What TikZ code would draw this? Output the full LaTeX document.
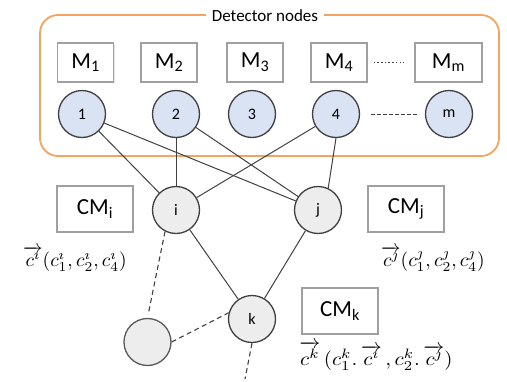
\documentclass[tikz,border=0pt]{standalone}
\usepackage{fontspec}
\setmainfont{Carlito}
\usepackage{amsmath}
\usetikzlibrary{shadows}
\definecolor{detfill}{HTML}{DAE3F3}
\definecolor{cfill}{HTML}{EDEDED}
\definecolor{edgec}{HTML}{404040}
\definecolor{orng}{HTML}{F4A460}
\definecolor{boxc}{HTML}{A0A0A0}
\begin{document}
\begin{tikzpicture}[x=1pt,y=-1pt,
  mbox/.style={draw=boxc, line width=1.2pt, fill=white, inner sep=0pt,
    minimum width=56pt, minimum height=39pt, font=\fontsize{23}{25}\selectfont,
    drop shadow={shadow xshift=1.2pt, shadow yshift=-1.2pt, fill=gray!35, opacity=0.6}},
  cmbox/.style={mbox, minimum width=76pt, minimum height=46pt},
  det/.style={circle, draw=edgec, line width=1.3pt, fill=detfill, inner sep=0pt,
    minimum size=47pt, font=\fontsize{16}{18}\selectfont},
  cn/.style={det, fill=cfill},
  edge/.style={draw=edgec, line width=1pt},
  dedge/.style={draw=edgec, line width=1.1pt, dash pattern=on 5pt off 3.5pt},
  mathlab/.style={inner sep=0pt, font=\fontsize{10}{12}\selectfont}
]
\useasboundingbox (0,0) rectangle (507,381);
% group frame
\draw[orng, line width=1.8pt, rounded corners=18pt] (40,15) rectangle (499,156);
\node[fill=white, inner xsep=6pt, inner ysep=1pt, font=\fontsize{17}{19}\selectfont] (title) at (265,16) {Detector nodes};
% M boxes
\node[mbox] (M1) at (85.5,62.5) {M\textsubscript{1}};
\node[mbox] (M2) at (169,62.5) {M\textsubscript{2}};
\node[mbox] (M3) at (255,62.5) {M\textsubscript{3}};
\node[mbox] (M4) at (339,62.5) {M\textsubscript{4}};
\node[mbox, minimum width=67pt] (Mm) at (448.5,62.5) {M\textsubscript{m}};
\draw[edgec, line width=1.4pt, dash pattern=on 1.5pt off 2.2pt, shorten <=6pt, shorten >=10pt] (M4.east) -- (Mm.west);
% detector nodes
\node[det] (n1) at (82,114) {1};
\node[det] (n2) at (176,114) {2};
\node[det] (n3) at (252,114) {3};
\node[det] (n4) at (336,114) {4};
\node[det] (nm) at (449,114) {m};
\draw[dedge, dash pattern=on 3.5pt off 2.5pt, line width=1pt, shorten <=11pt, shorten >=6pt] (n4.east) -- (nm.west);
% cluster nodes
\node[cn] (i) at (176,210) {i};
\node[cn] (j) at (318,210) {j};
\node[cn] (k) at (252,319) {k};
\node[cn, draw=gray!70!black] (b) at (147.5,342) {};
% CM boxes
\node[cmbox] (CMi) at (95,209) {CM\textsubscript{i}};
\node[cmbox] (CMj) at (406,209) {CM\textsubscript{j}};
\node[cmbox] (CMk) at (340,311) {CM\textsubscript{k}};
% edges
\draw[edge] (n1) -- (i);
\draw[edge] (n1) -- (j);
\draw[edge] (n2) -- (i);
\draw[edge] (n2) -- (j);
\draw[edge] (n4) -- (i);
\draw[edge] (n4.south) -- (j.65);
\draw[edge] (i) -- (k);
\draw[edge] (j) -- (k);
% dashed
\draw[dedge, shorten >=3pt] (i.-117) -- (b.north);
\draw[dedge] (b.east) -- (k.165);
\coordinate (kend) at (245,379);
\draw[dedge] (k.south) -- (kend);
% vector labels
\node[mathlab] (li) at (75,259) {\scalebox{1.95}{$\overrightarrow{c^{\imath}}(c^{\imath}_1,c^{\imath}_2,c^{\imath}_4)$}};
\node[mathlab] (lj) at (433,259) {\scalebox{1.95}{$\overrightarrow{c^{\jmath}}(c^{\jmath}_1,c^{\jmath}_2,c^{\jmath}_4)$}};
\node[mathlab] (lk) at (376,356) {\scalebox{2.1}[1.95]{$\overrightarrow{c^{k}}\,(c^{k}_1.\,\overrightarrow{c^{\imath}}\,,c^{k}_2.\,\overrightarrow{c^{\jmath}})$}};
\end{tikzpicture}
\end{document}
